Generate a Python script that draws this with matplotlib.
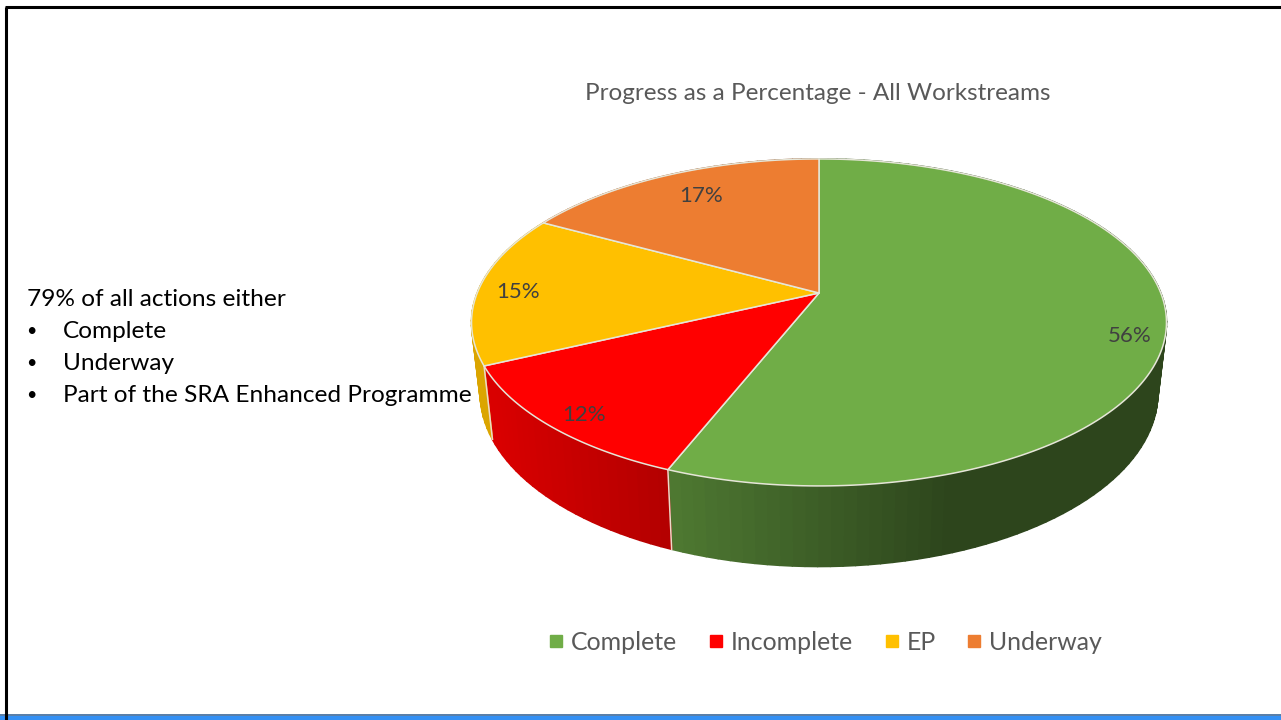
from matplotlib import pyplot as plt
from matplotlib.collections import PolyCollection
from matplotlib.colors import to_rgb
from matplotlib.lines import Line2D
import numpy as np

categories = ['Complete', 'Incomplete', 'EP', 'Underway']
shares = [56, 12, 15, 17]
colors = ['#70AD47', '#FF0000', '#FFC000', '#ED7D31']
pct_labels = ['56%', '12%', '15%', '17%']
title = 'Progress as a Percentage - All Workstreams'
note_lines = ['79% of all actions either', 'Complete', 'Underway', 'Part of the SRA Enhanced Programme']

# layout in pixels of the 1281x720 slide
label_pos = [(1130, 336), (584, 415), (518, 292), (701, 196)]
cx, cy = 819, 293
A, B, k = 341.8, 158.2, 0.18
depth_sx, depth_sy, depth_dy = 0.975, 1.06, 69


def project(angle, low=False):
    # angle is clockwise from 12 o'clock, in degrees
    rad = np.radians(angle)
    u, v = np.sin(rad), np.cos(rad)
    w = 1 + k * v
    x, y = A * u / w, -B * v / w
    if low:
        x, y = x * depth_sx, y * depth_sy + depth_dy
    return cx + x, cy + y


def shade(x, rgb):
    f = np.interp(x, [480, 668, 950], [0.86, 0.7, 0.4])
    return tuple(c * f for c in rgb)


plt.rcParams['font.family'] = ['Lato', 'DejaVu Sans']
fig = plt.figure(figsize=(12.81, 7.2), dpi=100)
ax = fig.add_axes([0, 0, 1, 1])
ax.set_xlim(0, 1281)
ax.set_ylim(720, 0)
ax.axis('off')

edges = np.cumsum([0] + shares) * 3.6

# side wall first, the top of the pie covers what is behind
for i, c in enumerate(colors):
    rgb = to_rgb(c)
    a = np.linspace(edges[i], edges[i + 1], int(shares[i] * 2) + 2)
    xt, yt = project(a)
    xb, yb = project(a, low=True)
    quads = []
    cols = []
    for j in range(len(a) - 1):
        quads.append([(xt[j], yt[j]), (xt[j + 1], yt[j + 1]), (xb[j + 1], yb[j + 1]), (xb[j], yb[j])])
        cols.append(shade((xt[j] + xt[j + 1]) / 2, rgb))
    ax.add_collection(PolyCollection(quads, facecolors=cols, edgecolors=cols, linewidths=1.2, zorder=2))

# light seams on the front of the wall
for e in edges[1:3]:
    xt, yt = project(e)
    xb, yb = project(e, low=True)
    ax.plot([xt, xb], [yt, yb], color='#ecd9c8', lw=1.1, zorder=3)

# top face
for i, c in enumerate(colors):
    a = np.linspace(edges[i], edges[i + 1], 200)
    xt, yt = project(a)
    ax.fill(np.r_[cx, xt], np.r_[cy, yt], facecolor=c, edgecolor='#e6e6d8', lw=1.1, joinstyle='round', zorder=4)

for txt, (x, y) in zip(pct_labels, label_pos):
    ax.text(x, y, txt, color='#404040', fontsize=16, ha='center', va='center', zorder=5)

ax.text(818, 94, title, color='#595959', fontsize=17.45, ha='center', va='center')

ax.text(27, 300, note_lines[0], color='black', fontsize=17.6, va='center')
for n, line in enumerate(note_lines[1:]):
    ax.text(31, 331 + n * 32, '\u2022', color='black', fontsize=13, va='center', ha='center')
    ax.text(63, 332 + n * 32, line, color='black', fontsize=17.6, va='center')

handles = [Line2D([], [], ls='none', marker='s', color=c, markersize=9) for c in colors]
ax.legend(handles, categories, ncol=4, frameon=False, loc='center', bbox_to_anchor=(823 / 1281, 1 - 642 / 720),
          fontsize=17.9, labelcolor='#595959', handletextpad=0.1, columnspacing=1.05, handlelength=1.0)

# slide frame
ax.axhspan(713.5, 716, color='#5A7FA8', lw=0, zorder=1)
ax.axhspan(716, 720, color='#3390F5', lw=0, zorder=1)
ax.plot([5.8, 5.8], [7, 720], color='black', lw=2.2, zorder=6, solid_capstyle='butt')
ax.plot([4.5, 1281], [7.2, 7.2], color='black', lw=2.2, zorder=6, solid_capstyle='butt')

fig.savefig('out.png', dpi=100)
